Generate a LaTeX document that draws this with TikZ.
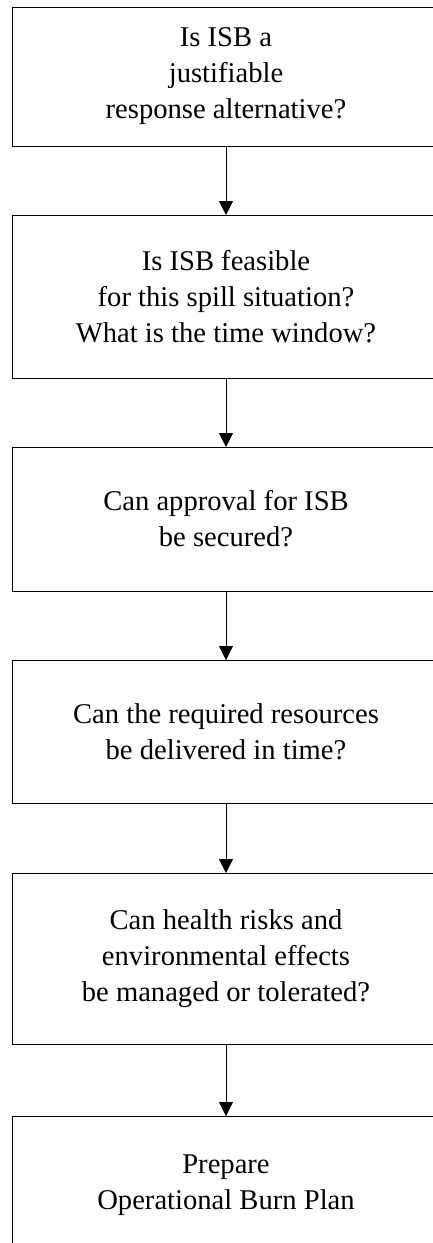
\documentclass[tikz,border=0pt]{standalone}
\usepackage{fontspec}
\setmainfont{Liberation Serif}
\usetikzlibrary{arrows.meta}

\tikzset{
  qbox/.style={draw, line width=0.9pt, minimum width=428pt, outer sep=0pt,
    align=center, font=\fontsize{28.6}{36}\selectfont},
  flow/.style={-{Triangle[length=14pt,width=14pt]}, line width=0.9pt}
}

\begin{document}
\begin{tikzpicture}[x=1pt,y=-1pt]
                \useasboundingbox (0,0) rectangle (432,1243);
                \node[qbox, minimum height=139pt] (justify) at (226,76.5)
                    {Is ISB a\\justifiable\\response alternative?};
                \node[qbox, minimum height=163pt] (feasible) at (226,296.5)
                    {Is ISB feasible\\for this spill situation?\\What is the time window?};
                \node[qbox, minimum height=144pt] (approval) at (226,519)
                    {Can approval for ISB\\be secured?};
                \node[qbox, minimum height=143pt] (resources) at (226,731.5)
                    {Can the required resources\\be delivered in time?};
                \node[qbox, minimum height=171pt] (risks) at (226,958.5)
                    {Can health risks and\\environmental effects\\be managed or tolerated?};
                \node[qbox, minimum height=138pt] (burnplan) at (226,1185)
                    {Prepare\\Operational Burn Plan};
                \draw[flow] (justify) -- (feasible);
                \draw[flow] (feasible) -- (approval);
                \draw[flow] (approval) -- (resources);
                \draw[flow] (resources) -- (risks);
                \draw[flow] (risks) -- (burnplan);
            \end{tikzpicture}
\end{document}
